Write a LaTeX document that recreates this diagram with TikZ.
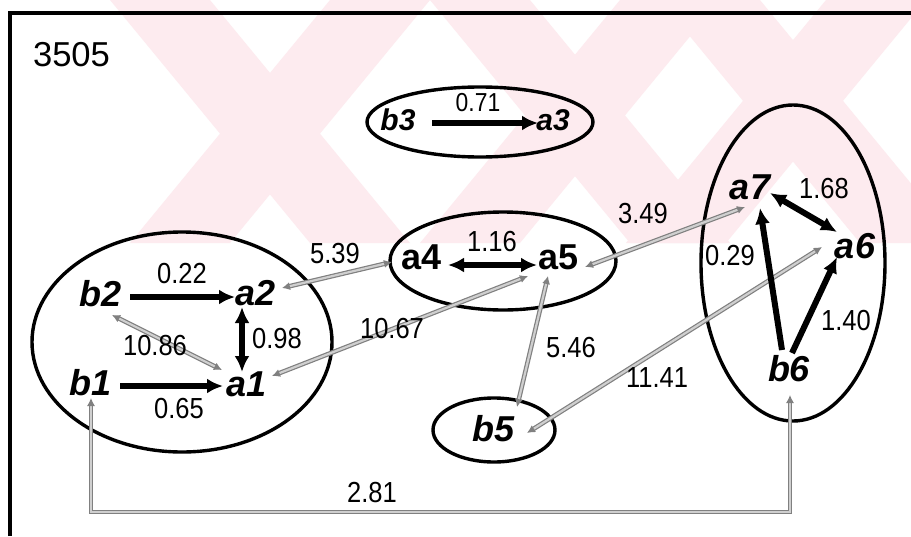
\documentclass[tikz,border=0pt]{standalone}
\usepackage{fontspec}
\setmainfont{Liberation Sans}
\newfontfamily\numfont[FakeStretch=0.88]{Liberation Sans}
\usetikzlibrary{arrows.meta,calc}
\definecolor{wmpink}{HTML}{FDEBEF}
\definecolor{linkgray}{HTML}{808080}
\definecolor{linkfill}{HTML}{CFCFCF}
\begin{document}
\begin{tikzpicture}[x=1pt,y=-1pt,
  var/.style={font=\fontsize{36}{36}\selectfont\bfseries\itshape, inner sep=0pt},
  varup/.style={font=\fontsize{36}{36}\selectfont\bfseries, inner sep=0pt},
  smallvar/.style={font=\fontsize{30}{30}\selectfont\bfseries\itshape, inner sep=0pt},
  wlab/.style={font=\numfont\fontsize{29}{29}\selectfont, inner sep=0pt},
  smallwlab/.style={font=\numfont\fontsize{26}{26}\selectfont, inner sep=0pt},
  group/.style={draw=black, line width=3.4pt},
  strong/.style={draw=black, line width=6pt, -{Latex[length=16pt,width=15pt]}},
  strongboth/.style={strong, {Latex[length=16pt,width=15pt]}-{Latex[length=16pt,width=15pt]}},
  glink/.style={draw=linkgray, double=linkfill, line width=1.2pt, double distance=2.2pt,
    {Latex[length=8pt,width=8pt]}-{Latex[length=8pt,width=8pt]}},
  frame/.style={draw=black, line width=3.6pt}
]
\useasboundingbox (0,0) rectangle (911,536);
\fill[white] (0,0) rectangle (911,536);

% faint background pattern in the upper band
\begin{scope}
  \clip (0,0) rectangle (911,243);
  \foreach \s in {110,430,660} {
    \fill[wmpink] (\s,0) -- ++(100,0) -- ++(200,243) -- ++(-100,0) -- cycle;
  }
  \foreach \s in {330,620,826} {
    \fill[wmpink] (\s,0) -- ++(100,0) -- ++(-200,243) -- ++(-100,0) -- cycle;
  }
\end{scope}

% frame
\draw[frame] (10,536) -- (10,13) -- (911,13);
\node[font=\fontsize{34.6}{34.6}\selectfont, inner sep=0pt] (title) at (71.5,55) {3505};

% groups
\draw[group] (480,122) ellipse [x radius=113, y radius=35];
\draw[group] (182,342) ellipse [x radius=150, y radius=110];
\draw[group] (503,261) ellipse [x radius=113, y radius=49];
\draw[group] (793,263) ellipse [x radius=92, y radius=158];
\draw[group] (494,430) ellipse [x radius=61, y radius=32];

% variables
\node[smallvar] (b3) at (398,120) {b3};
\node[smallvar] (a3) at (553,120) {a3};
\node[var] (b2) at (101,294) {b2};
\node[var] (a2) at (256,293) {a2};
\node[var] (b1) at (91,383) {b1};
\node[var] (a1) at (247,384) {a1};
\node[varup] (a4) at (422,257) {a4};
\node[varup] (a5) at (559,257) {a5};
\node[var] (a7) at (750,187) {a7};
\node[var] (a6) at (855,246) {a6};
\node[var] (b6) at (789,369) {b6};
\node[var] (b5) at (494,429) {b5};

% links between groups
\draw[glink] ($(b2)+(11,21)$) -- ($(a1)+(-25,-14)$);
\draw[glink] ($(a4)+(-30,5)$) -- ($(a2)+(26,-5)$);
\draw[glink] ($(a1)+(25,-8)$) -- ($(a5)+(-31,19)$);
\draw[glink] ($(a5)+(26,10)$) -- ($(a7)+(-5,20)$);
\draw[glink] ($(b5)+(23,-22)$) -- ($(a5)+(-11,19)$);
\draw[glink] ($(b5)+(33,4)$) -- ($(a6)+(-33,1)$);
\coordinate (rail) at (440,512);
\draw[glink] ($(b1)+(0,15)$) |- (rail) -| ($(b6)+(1,26)$);

% links within groups
\draw[strong] ($(b3)+(34,3)$) -- ($(a3)+(-15,3)$);
\draw[strong] ($(b2)+(29,3)$) -- ($(a2)+(-21,4)$);
\draw[strong] ($(b1)+(29,3)$) -- ($(a1)+(-24,2)$);
\draw[strongboth] ($(a2)+(-14,14)$) -- ($(a1)+(-5,-12)$);
\draw[strongboth] ($(a4)+(26,8)$) -- ($(a5)+(-22,8)$);
\draw[strongboth] ($(a7)+(20,6)$) -- ($(a6)+(-18,-14)$);
\draw[strong] ($(b6)+(-7,-19)$) -- ($(a7)+(10,21)$);
\draw[strong] ($(b6)+(3,-16)$) -- ($(a6)+(-18,11)$);

% weights
\node[smallwlab] (w071) at (478,103) {0.71};
\node[wlab] (w022) at (182,274) {0.22};
\node[wlab] (w065) at (179,409) {0.65};
\node[wlab] (w098) at (277,339) {0.98};
\node[wlab] (w1086) at (155,346) {10.86};
\node[wlab] (w539) at (335,254) {5.39};
\node[wlab] (w1067) at (392,329) {10.67};
\node[wlab] (w116) at (492,242) {1.16};
\node[wlab] (w349) at (643,214) {3.49};
\node[wlab] (w546) at (571,348) {5.46};
\node[wlab] (w1141) at (657,378) {11.41};
\node[wlab] (w168) at (824,189) {1.68};
\node[wlab] (w029) at (730,256) {0.29};
\node[wlab] (w140) at (846,321) {1.40};
\node[wlab] (w281) at (372,493) {2.81};
\end{tikzpicture}
\end{document}
